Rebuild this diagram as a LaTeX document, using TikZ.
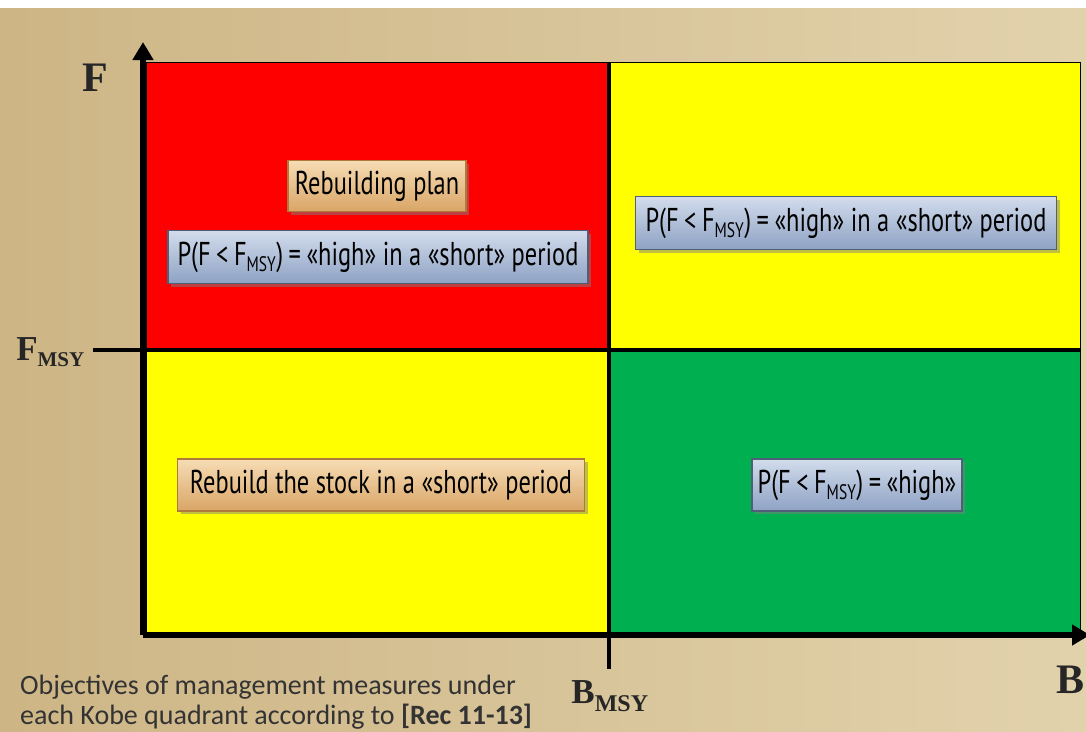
\documentclass[tikz,border=0pt]{standalone}
\usepackage{fontspec}
\setmainfont{Liberation Serif}
\newfontfamily\boxfont[FakeStretch=0.74]{PT Sans}
\newfontfamily\capfont{Carlito}
\usetikzlibrary{arrows.meta,shadows}
\definecolor{bgdark}{HTML}{CDB585}
\definecolor{bglight}{HTML}{E2D2AC}
\definecolor{qred}{HTML}{FF0000}
\definecolor{qyellow}{HTML}{FFFF00}
\definecolor{qgreen}{HTML}{00B050}
\definecolor{bluetop}{HTML}{D2DCEC}
\definecolor{bluebot}{HTML}{8EA2C4}
\definecolor{blueedge}{HTML}{4F5F78}
\definecolor{tantop}{HTML}{F6DCB4}
\definecolor{tanbot}{HTML}{D9A566}
\definecolor{tanedge}{HTML}{B07A3A}
\tikzset{
  axisline/.style={line width=6pt},
  quad/.style={draw=black, line width=1pt},
  boxtext/.style={font=\boxfont\fontsize{33}{36}\selectfont, text=black, inner sep=0pt},
  bluebox/.style={boxtext, draw=blueedge, line width=1.2pt, top color=bluetop, bottom color=bluebot,
    drop shadow={shadow xshift=3pt, shadow yshift=-3pt, opacity=0.5}},
  tanbox/.style={boxtext, draw=tanedge, line width=1.2pt, top color=tantop, bottom color=tanbot,
    drop shadow={shadow xshift=3pt, shadow yshift=-3pt, opacity=0.5}},
  axlabel/.style={font=\bfseries\fontsize{42}{46}\selectfont, text=black!85},
  sublabel/.style={font=\bfseries\fontsize{35}{40}\selectfont, text=black!85},
}
\newcommand{\msy}{\textsubscript{\fontsize{21}{24}\selectfont MSY}}
\newcommand{\bmsy}{\textsubscript{\fontsize{24}{26}\selectfont MSY}}
\begin{document}
\begin{tikzpicture}[x=1pt,y=-1pt]
\useasboundingbox (0,0) rectangle (1086,731);
\clip (0,0) rectangle (1086,731);
% background
\fill[white] (0,0) rectangle (1086,10);
\shade[left color=bgdark, right color=bglight] (0,8) rectangle (1086,731);
% quadrants
\fill[qred] (146,62) rectangle (609,350);
\fill[qyellow] (609,62) rectangle (1080,350);
\fill[qyellow] (146,350) rectangle (609,633);
\fill[qgreen] (609,350) rectangle (1080,633);
\draw[quad] (146,62) rectangle (1080,633);
% axes
\coordinate (o) at (143,635);
\coordinate (ytip) at (143,42);
\coordinate (xtip) at (1090,635);
\draw[axisline,-{Triangle[length=18pt,width=20pt]}] (o) -- (ytip);
\draw[axisline,-{Triangle[length=18pt,width=20pt]}] (o) -- (xtip);
\coordinate (fl) at (93,350);
\coordinate (fr) at (1080,350);
\draw[line width=4.5pt] (fl) -- (fr);
\coordinate (bt) at (609,62);
\coordinate (bb) at (609,669);
\draw[line width=4.5pt] (bt) -- (bb);
% axis labels
\node[axlabel] (F) at (95,78) {F};
\node[sublabel, anchor=east, inner sep=0pt] (Fmsy) at (85,352) {F\msy};
\node[sublabel] (Bmsy) at (610,696) {B\bmsy};
\node[axlabel, anchor=east, inner sep=0pt] (B) at (1085,680) {B};
% boxes
\node[tanbox, minimum width=178pt, minimum height=51pt] (rp) at (377,186) {Rebuilding plan};
\node[bluebox, minimum width=420pt, minimum height=53pt] (p1) at (378,257) {P(F\,<\,F\msy)\,=\,«high» in a «short» period};
\node[bluebox, minimum width=421pt, minimum height=53pt] (p2) at (846,223) {P(F\,<\,F\msy)\,=\,«high» in a «short» period};
\node[tanbox, minimum width=407pt, minimum height=52pt] (rs) at (381,485) {Rebuild the stock in a «short» period};
\node[bluebox, minimum width=210pt, minimum height=52pt] (p3) at (857,485) {P(F\,<\,F\msy)\,=\,«high»};
% caption
\node[anchor=north west, align=left, font=\capfont\fontsize{28}{30}\selectfont, text=black!80, inner sep=0pt] (cap) at (20,675)
  {Objectives of management measures under\\each Kobe quadrant according to \textbf{[Rec 11-13]}};
\end{tikzpicture}
\end{document}
